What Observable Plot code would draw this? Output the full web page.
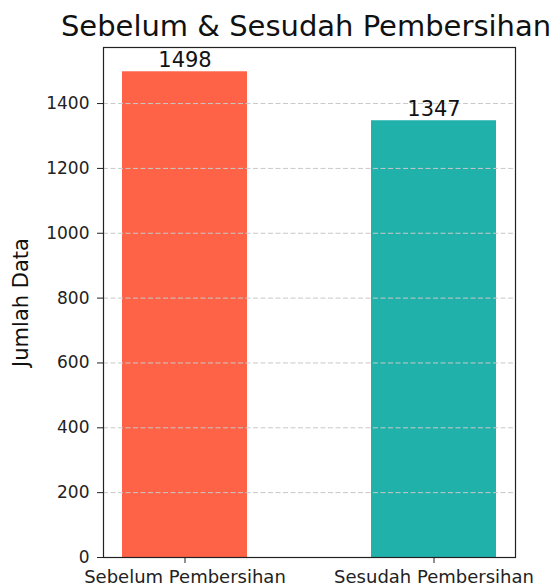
<!DOCTYPE html>
<html><head><meta charset="utf-8">
<script src="https://cdn.jsdelivr.net/npm/d3@7"></script>
<script src="https://cdn.jsdelivr.net/npm/@observablehq/plot@0.6"></script>
<style>
body{margin:0;background:#fff;font-family:"DejaVu Sans",sans-serif;}
#wrap{position:relative;width:560px;height:587px;overflow:hidden;background:#fff}
#title{position:absolute;left:0;width:612px;top:12px;text-align:center;font-size:29px;line-height:29px;color:#111;white-space:nowrap}
#chart{position:absolute;left:0;top:38px}
</style></head><body>
<div id="wrap"><div id="title"></div><div id="chart"></div></div>
<script>
const titleText = "Sebelum & Sesudah Pembersihan";
const yLabel = "Jumlah Data";
const categories = ["Sebelum Pembersihan", "Sesudah Pembersihan"];
const values = [1498, 1347];
const colors = ["#FF6347", "#20B2AA"];
const yTicks = [0, 200, 400, 600, 800, 1000, 1200, 1400];

const data = categories.map((c, i) => ({category: c, value: values[i], color: colors[i]}));
document.getElementById("title").textContent = titleText;

const chart = Plot.plot({
  width: 560, height: 549,
  marginLeft: 103, marginRight: 45, marginTop: 9, marginBottom: 30,
  style: {fontFamily: "DejaVu Sans", fontSize: "17px", color: "#222", background: "#fff"},
  x: {domain: categories, paddingInner: 0.5, paddingOuter: 0.076, label: null},
  y: {domain: [0, d3.max(values) * 1.05], label: null},
  color: {type: "identity"},
  marks: [
    Plot.barY(data, {x: "category", y: "value", fill: "color"}),
    Plot.gridY(yTicks, {stroke: "#c8c8c8", strokeOpacity: 1, strokeDasharray: "5,2.5", strokeWidth: 1}),
    Plot.axisY(yTicks, {tickSize: 6, tickPadding: 8, fontSize: 17, label: null, tickFormat: "d", stroke: "#222"}),
    Plot.axisX({tickSize: 6, tickPadding: 7, fontSize: 18, label: null, stroke: "#222"}),
    Plot.frame({stroke: "#222", strokeWidth: 1.2}),
    Plot.text(data, {x: "category", y: "value", text: d => String(d.value), lineAnchor: "bottom", dy: -5, fontSize: 21, fill: "#111"}),
    Plot.text([yLabel], {frameAnchor: "left", dx: -82, rotate: -90, fontSize: 21, textAnchor: "middle", lineAnchor: "middle", fill: "#111"})
  ]
});
document.getElementById("chart").appendChild(chart);
</script>
</body></html>
